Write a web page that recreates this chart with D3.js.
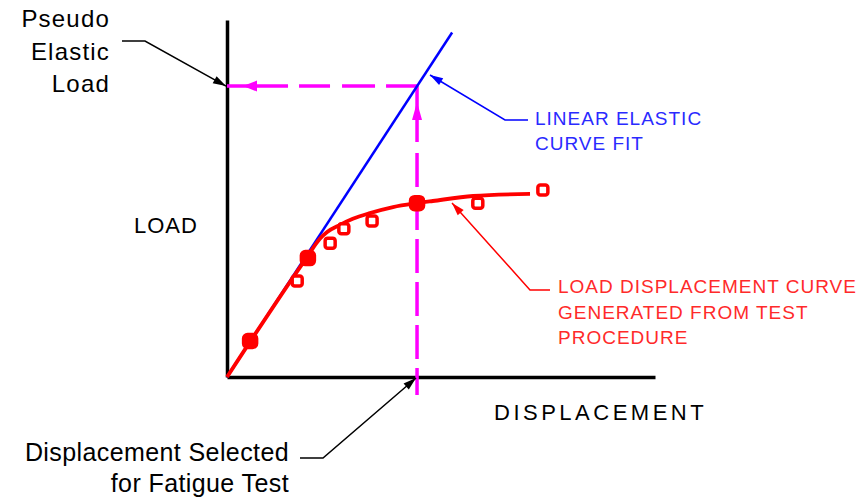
<!DOCTYPE html>
<html>
<head>
<meta charset="utf-8">
<script src="https://cdn.jsdelivr.net/npm/d3@7"></script>
<style>
  body { margin: 0; background: #fff; }
  svg { display: block; }
  text { font-family: "Liberation Sans", Arial, sans-serif; }
</style>
</head>
<body>
<script>
// Load–displacement curve produced by the test procedure (arbitrary units 0–100)
const curveDisp = [0, 18.7, 21.7, 23.4, 26.4, 29.4, 33.4, 38.8, 44.4, 48.1, 57.5, 70.8];
const curveLoad = [0, 33.6, 38.7, 40.6, 42.6, 44.3, 45.9, 47.6, 48.7, 49.3, 50.7, 51.3];

// Individual test readings (filled = reading used for the fit / selection)
const testDisp   = [5.4, 16.4, 18.9, 24.1, 27.3, 33.9, 44.4, 58.6, 73.8];
const testLoad   = [10.1, 26.9, 33.3, 37.5, 41.5, 43.7, 48.7, 48.7, 52.4];
const testFilled = [true, false, true, false, false, false, true, false, false];

// Linear elastic curve fit (end points)
const fitDisp = [0, 52.6];
const fitLoad = [0, 96.5];

// Selected displacement and the resulting pseudo elastic load
const selectedDisp = 44.4;
const pseudoElasticLoad = 81.5;

// Label texts
const axisLabelX = "DISPLACEMENT";
const axisLabelY = "LOAD";
const pseudoLines = ["Pseudo", "Elastic", "Load"];
const selectedLines = ["Displacement Selected", "for Fatigue Test"];
const fitLines = ["LINEAR ELASTIC", "CURVE FIT"];
const curveLines = ["LOAD DISPLACEMENT CURVE", "GENERATED FROM TEST", "PROCEDURE"];

const W = 866, H = 499;
const RED = "#ff0000", BLUE = "#0000ff", MAGENTA = "#ff00ff";

const svg = d3.select("body").append("svg").attr("width", W).attr("height", H);

const x = d3.scaleLinear().domain([0, 100]).range([227, 655]);
const y = d3.scaleLinear().domain([0, 100]).range([377, 20]);

// Triangle arrowhead with its tip at (tx, ty), pointing away from (fx, fy)
function arrowHead(tx, ty, fx, fy, len, half) {
  const a = Math.atan2(ty - fy, tx - fx);
  const bx = tx - len * Math.cos(a), by = ty - len * Math.sin(a);
  const px = -Math.sin(a) * half, py = Math.cos(a) * half;
  return `M${tx},${ty}L${bx + px},${by + py}L${bx - px},${by - py}Z`;
}

// Axes (no ticks)
svg.append("g").attr("transform", `translate(0,${y(0)})`)
  .call(d3.axisBottom(x).ticks(0).tickSizeOuter(0))
  .call(g => g.select(".domain").attr("stroke", "#000").attr("stroke-width", 3.5));
svg.append("g").attr("transform", `translate(${x(0)},0)`)
  .call(d3.axisLeft(y).ticks(0).tickSizeOuter(0))
  .call(g => g.select(".domain").attr("stroke", "#000").attr("stroke-width", 3.5));

// Selection guides (magenta dashed)
const gx = x(selectedDisp), gy = y(pseudoElasticLoad);
svg.append("line")
  .attr("x1", gx).attr("y1", gy).attr("x2", x(0)).attr("y2", gy)
  .attr("stroke", MAGENTA).attr("stroke-width", 3.5)
  .attr("stroke-dasharray", "31,11,33,12,31,11,70");
svg.append("path")
  .attr("d", arrowHead(x(0) + 16, gy, gx, gy, 14, 5.5))
  .attr("fill", MAGENTA);
svg.append("line")
  .attr("x1", gx).attr("y1", gy).attr("x2", gx).attr("y2", y(0) + 18)
  .attr("stroke", MAGENTA).attr("stroke-width", 3.5)
  .attr("stroke-dasharray", "56,11,34,9,34,9,34,9,34,9,34,9,60");
svg.append("path")
  .attr("d", arrowHead(gx, gy + 16, gx, y(0), 18, 5))
  .attr("fill", MAGENTA);

// Linear elastic fit
svg.append("line")
  .attr("x1", x(fitDisp[0])).attr("y1", y(fitLoad[0]))
  .attr("x2", x(fitDisp[1])).attr("y2", y(fitLoad[1]))
  .attr("stroke", BLUE).attr("stroke-width", 2.5);

// Load displacement curve
const curvePts = curveDisp.map((d, i) => [x(d), y(curveLoad[i])]);
svg.append("path")
  .attr("d", d3.line().curve(d3.curveMonotoneX)(curvePts))
  .attr("fill", "none").attr("stroke", RED).attr("stroke-width", 3.8)
  .attr("stroke-linejoin", "round");

// Test readings
svg.append("g").selectAll("rect")
  .data(testDisp.map((d, i) => ({ d, l: testLoad[i], f: testFilled[i] })))
  .join("rect")
  .attr("x", p => x(p.d) - (p.f ? 6.5 : 5))
  .attr("y", p => y(p.l) - (p.f ? 6.5 : 5))
  .attr("width", p => p.f ? 13 : 10)
  .attr("height", p => p.f ? 13 : 10)
  .attr("rx", p => p.f ? 4 : 2.5)
  .attr("fill", p => p.f ? RED : "#fff")
  .attr("stroke", RED).attr("stroke-width", 3.5);

// Axis titles
svg.append("text").attr("x", 134).attr("y", 233)
  .attr("font-size", 22).attr("letter-spacing", 1).attr("fill", "#000")
  .text(axisLabelY);
svg.append("text").attr("x", 494).attr("y", 420)
  .attr("font-size", 22).attr("letter-spacing", 3.5).attr("fill", "#000")
  .text(axisLabelX);

// Leader helper: polyline + arrowhead
function leader(points, color) {
  svg.append("path")
    .attr("d", d3.line()(points))
    .attr("fill", "none").attr("stroke", color).attr("stroke-width", 1.5);
  const n = points.length;
  svg.append("path")
    .attr("d", arrowHead(points[n - 1][0], points[n - 1][1], points[n - 2][0], points[n - 2][1], 13, 4))
    .attr("fill", color);
}

// Pseudo elastic load callout
svg.append("g").selectAll("text").data(pseudoLines).join("text")
  .attr("x", 110).attr("y", (d, i) => 27 + i * 32.5)
  .attr("text-anchor", "end").attr("font-size", 24).attr("letter-spacing", 1.2)
  .attr("fill", "#000").text(d => d);
leader([[122, 41], [145, 41], [x(0) - 1, gy]], "#000");

// Selected displacement callout
svg.append("g").selectAll("text").data(selectedLines).join("text")
  .attr("x", 289).attr("y", (d, i) => 461 + i * 31)
  .attr("text-anchor", "end").attr("font-size", 25).attr("letter-spacing", 0.4)
  .attr("fill", "#000").text(d => d);
leader([[300, 458], [323, 458], [gx - 1, y(0) + 1]], "#000");

// Linear elastic fit callout
svg.append("g").selectAll("text").data(fitLines).join("text")
  .attr("x", 535).attr("y", (d, i) => 125 + i * 25)
  .attr("font-size", 19).attr("letter-spacing", 1).attr("fill", "#2a2aff").text(d => d);
leader([[528, 120], [505, 120], [430, 75]], BLUE);

// Load displacement curve callout
svg.append("g").selectAll("text").data(curveLines).join("text")
  .attr("x", 558).attr("y", (d, i) => 293 + i * 25.5)
  .attr("font-size", 19).attr("letter-spacing", 1).attr("fill", "#ff2a2a").text(d => d);
leader([[550, 290], [530, 290], [452, 203]], RED);
</script>
</body>
</html>
